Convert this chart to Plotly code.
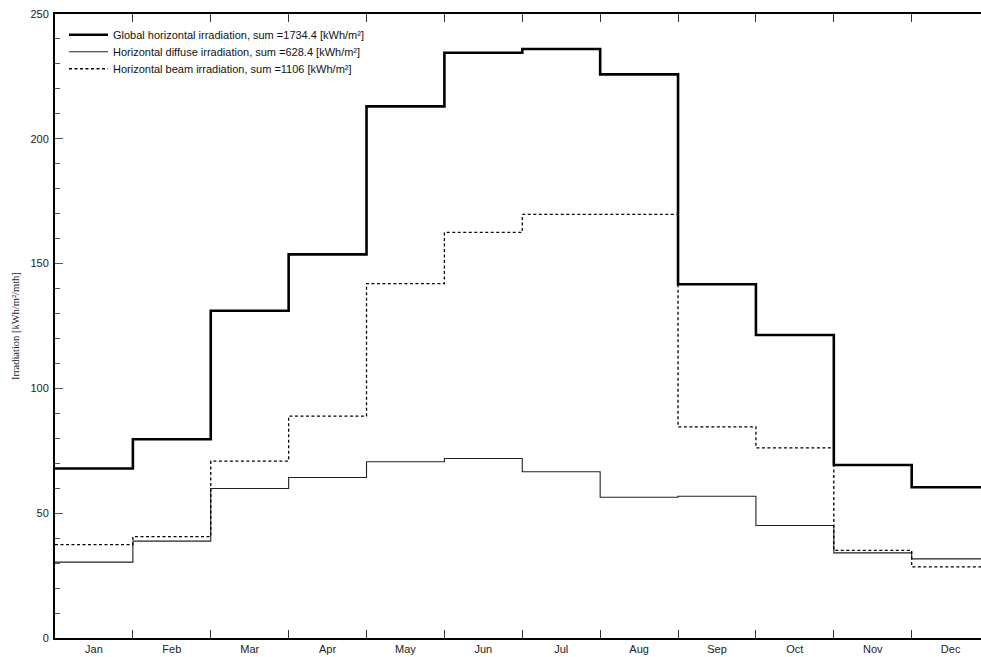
import plotly.graph_objects as go

months = ["Jan", "Feb", "Mar", "Apr", "May", "Jun", "Jul", "Aug", "Sep", "Oct", "Nov", "Dec"]
global_h = [67.9, 79.6, 131.1, 153.7, 213.0, 234.5, 236.0, 225.8, 141.7, 121.4, 69.3, 60.4]
diffuse_h = [30.4, 38.8, 59.9, 64.3, 70.6, 71.9, 66.6, 56.4, 56.8, 45.1, 34.1, 31.7]
beam_h = [37.4, 40.6, 70.9, 88.9, 142.0, 162.5, 169.7, 169.7, 84.6, 76.2, 35.1, 28.5]
names = [
    "Global horizontal irradiation, sum =1734.4 [kWh/m²]",
    "Horizontal diffuse irradiation, sum =628.4 [kWh/m²]",
    "Horizontal beam irradiation, sum =1106 [kWh/m²]",
]
y_ticks = [0, 50, 100, 150, 200, 250]

edges = list(range(len(months) + 1))


def stepped(vals):
    return vals + [vals[-1]]


fig = go.Figure()
fig.add_trace(go.Scatter(x=edges, y=stepped(global_h), mode="lines", line_shape="hv",
                         name=names[0], legend="legend",
                         line=dict(color="black", width=2.6)))
fig.add_trace(go.Scatter(x=edges, y=stepped(diffuse_h), mode="lines", line_shape="hv",
                         name=names[1], legend="legend2",
                         line=dict(color="#222222", width=1.1)))
fig.add_trace(go.Scatter(x=edges, y=stepped(beam_h), mode="lines", line_shape="hv",
                         name=names[2], legend="legend3",
                         line=dict(color="black", width=1.3, dash="3px,2.5px")))

font_family = "Liberation Sans, Arial, sans-serif"
leg_common = dict(x=0.0097, xanchor="left", yanchor="top",
                  bgcolor="rgba(255,255,255,0)", font=dict(size=11, color="#111111"),
                  itemwidth=39)
row = 17 / 624

fig.update_layout(
    width=981, height=657,
    margin=dict(l=55, r=0, t=14, b=19),
    paper_bgcolor="white", plot_bgcolor="white",
    font=dict(family=font_family, size=11, color="#222222"),
    showlegend=True,
    legend=dict(y=0.99, **leg_common),
    legend2=dict(y=0.99 - row, **leg_common),
    legend3=dict(y=0.99 - 2 * row, **leg_common),
    xaxis=dict(
        range=[0, 11.89],
        tickvals=[i + 0.5 for i in range(len(months))], ticktext=months,
        ticks="", showgrid=False, zeroline=False,
        showline=True, linecolor="black", linewidth=2, mirror="ticks",
        minor=dict(tickvals=edges[1:-1], ticks="inside", ticklen=8, tickwidth=1,
                   tickcolor="#333333", showgrid=False),
        tickfont=dict(size=11, color="#222222"),
    ),
    yaxis=dict(
        range=[0, 250],
        tickvals=y_ticks, ticks="inside", ticklen=8, tickwidth=1, tickcolor="#555555",
        showgrid=False, zeroline=False,
        showline=True, linecolor="black", linewidth=2,
        minor=dict(dtick=10, tick0=0, ticks="inside", ticklen=5, tickwidth=1,
                   tickcolor="#555555", showgrid=False),
        tickfont=dict(size=11, color="#222222"),
        ticklabelstandoff=2,
    ),
    annotations=[dict(
        text="Irradiation [kWh/m²/mth]", textangle=-90,
        xref="paper", yref="paper", x=-0.0432, y=0.5, xanchor="center", yanchor="middle",
        showarrow=False, font=dict(family="Liberation Serif, Times New Roman, serif", size=10.5, color="#222233"),
    )],
)

fig.write_html("out.html", config={"displayModeBar": False},
               post_script="document.body.style.margin='0';document.body.style.overflow='hidden';")
